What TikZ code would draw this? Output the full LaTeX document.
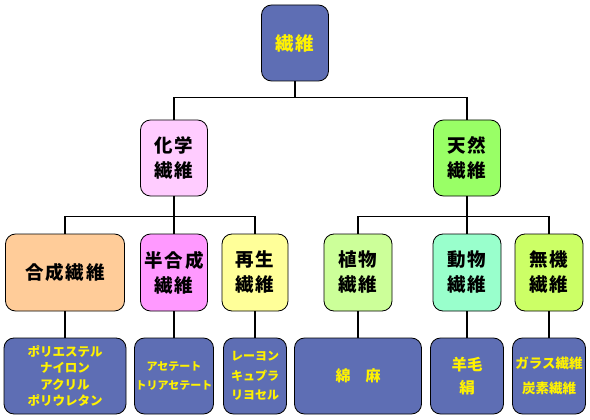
\documentclass[tikz,border=0pt]{standalone}
\usepackage{fontspec}
\usepackage{xcolor}
\usepackage{tikz}

\newfontfamily\jpfont{Noto Sans CJK JP}
\newfontfamily\jpwide{Noto Sans CJK JP}[LetterSpace=10]

\definecolor{boxblue}{RGB}{94,110,180}
\definecolor{chempink}{RGB}{255,204,255}
\definecolor{natgreen}{RGB}{153,255,102}
\definecolor{synthorange}{RGB}{255,204,153}
\definecolor{semimagenta}{RGB}{255,153,255}
\definecolor{regenyellow}{RGB}{255,255,153}
\definecolor{plantgreen}{RGB}{204,255,153}
\definecolor{animalmint}{RGB}{153,255,204}
\definecolor{minerallime}{RGB}{204,255,102}

\begin{document}
\begin{tikzpicture}[x=1pt, y=-1pt,
  rootbox/.style={rectangle, rounded corners=10pt, draw, line width=0.8pt, fill=boxblue, text=yellow, minimum width=67pt, minimum height=76pt, inner sep=0pt, align=center, font=\jpwide\bfseries\fontsize{18.5}{25}\selectfont},
  kind/.style={rectangle, rounded corners=10pt, draw, line width=0.8pt, minimum height=77pt, inner sep=0pt, align=center, font=\jpwide\bfseries\fontsize{18.5}{25}\selectfont},
  leaf/.style={rectangle, rounded corners=10pt, draw, line width=0.8pt, fill=boxblue, text=yellow, minimum height=76pt, inner sep=0pt, align=center},
  link/.style={line width=1.5pt}
]
  \useasboundingbox (0,0) rectangle (590,420);

  \node[rootbox] (root) at (295,43) {繊維};

  \node[kind, fill=chempink, minimum width=67pt, minimum height=76pt] (g1) at (174,158) {化学\\繊維};
  \node[kind, fill=natgreen, minimum width=67pt, minimum height=76pt] (g2) at (467,158) {天然\\繊維};

  \node[kind, fill=synthorange, minimum width=119pt] (k1) at (65,272.5)  {合成繊維};
  \node[kind, fill=semimagenta, minimum width=67pt]  (k2) at (174,272.5) {半合成\\繊維};
  \node[kind, fill=regenyellow, minimum width=66pt]  (k3) at (255,272.5) {再生\\繊維};
  \node[kind, fill=plantgreen, minimum width=68pt]   (k4) at (358,272.5) {植物\\繊維};
  \node[kind, fill=animalmint, minimum width=68pt]   (k5) at (467,272.5) {動物\\繊維};
  \node[kind, fill=minerallime, minimum width=68pt]  (k6) at (549,272.5) {無機\\繊維};

  \node[leaf, minimum width=122pt, font=\jpfont\bfseries\fontsize{12.5}{16.5}\selectfont] (b1) at (65,376)  {ポリエステル\\ナイロン\\アクリル\\ポリウレタン};
  \node[leaf, minimum width=79pt, font=\jpfont\bfseries\fontsize{11}{19}\selectfont]     (b2) at (174,376) {アセテート\\トリアセテート};
  \node[leaf, minimum width=63pt, font=\jpfont\bfseries\fontsize{12}{19.5}\selectfont]   (b3) at (255,376) {レーヨン\\キュプラ\\リヨセル};
  \node[leaf, minimum width=127pt, font=\jpfont\bfseries\fontsize{15}{20}\selectfont]    (b4) at (358,376) {綿　麻};
  \node[leaf, minimum width=73pt, font=\jpfont\bfseries\fontsize{15.5}{23}\selectfont]   (b5) at (467,376) {羊毛\\絹};
  \node[leaf, minimum width=73pt, font=\jpfont\bfseries\fontsize{13.5}{25}\selectfont]   (b6) at (549,376) {ガラス繊維\\炭素繊維};

  \draw[link] (root.south) -- ++(0,16) -| (g1.north);
  \draw[link] (root.south) -- ++(0,16) -| (g2.north);

  \draw[link] (g1.south) -- ++(0,20) -| (k1.north);
  \draw[link] (g1.south) -- ++(0,20) -| (k2.north);
  \draw[link] (g1.south) -- ++(0,20) -| (k3.north);
  \draw[link] (g2.south) -- ++(0,20) -| (k4.north);
  \draw[link] (g2.south) -- ++(0,20) -| (k5.north);
  \draw[link] (g2.south) -- ++(0,20) -| (k6.north);

  \draw[link] (k1) -- (b1);
  \draw[link] (k2) -- (b2);
  \draw[link] (k3) -- (b3);
  \draw[link] (k4) -- (b4);
  \draw[link] (k5) -- (b5);
  \draw[link] (k6) -- (b6);
\end{tikzpicture}
\end{document}
